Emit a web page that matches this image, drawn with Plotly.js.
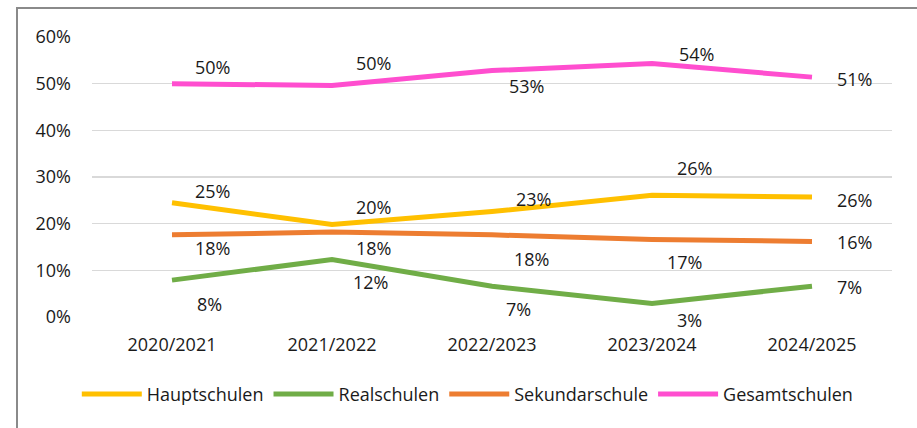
<!DOCTYPE html>
<html>
<head>
<meta charset="utf-8">
<script src="https://cdn.plot.ly/plotly-3.0.1.min.js"></script>
<style>
  html, body { margin: 0; padding: 0; background: #fff; }
  #wrap { position: relative; width: 917px; height: 428px; overflow: hidden; }
  #chart { width: 917px; height: 428px; }
  #frame { position: absolute; left: 16px; top: 7px; width: 1000px; height: 1000px;
           border-left: 2px solid #8a8a8a; border-top: 2px solid #8a8a8a; pointer-events: none; }
</style>
</head>
<body>
<div id="wrap">
  <div id="chart"></div>
  <div id="frame"></div>
</div>
<script>
// ---- data ----
const categories = ["2020/2021", "2021/2022", "2022/2023", "2023/2024", "2024/2025"];
const hauptschulen   = [24.5, 19.8, 22.6, 26.1, 25.7];
const realschulen    = [7.9, 12.3, 6.6, 2.9, 6.6];
const sekundarschule = [17.6, 18.2, 17.6, 16.6, 16.2];
const gesamtschulen  = [50.0, 49.6, 52.8, 54.3, 51.4];
const yTickVals   = [0, 10, 20, 30, 40, 50, 60];
const yTickLabels = ["0%", "10%", "20%", "30%", "40%", "50%", "60%"];

// ---- style ----
const seriesDefs = [
  { name: "Hauptschulen",   values: hauptschulen,   color: "#FFC000",
    shift: [[40,-12],[41,-18],[41,-12.5],[42,-27],[42,3]] },
  { name: "Realschulen",    values: realschulen,    color: "#70AD47",
    shift: [[37,24],[38,22],[26,23],[37,17],[37,1]] },
  { name: "Sekundarschule", values: sekundarschule, color: "#ED7D31",
    shift: [[40,13],[41,16],[39,24],[32,22.5],[42,1]] },
  { name: "Gesamtschulen",  values: gesamtschulen,  color: "#FF4ECF",
    shift: [[40,-17],[41,-23],[34,15],[44,-10],[42,1.5]] }
];
const FONT = "Open Sans, Liberation Sans, sans-serif";
const TXT = "#1a1a1a";

const traces = seriesDefs.map(s => ({
  type: "scatter", mode: "lines", name: s.name,
  x: categories, y: s.values,
  line: { color: s.color, width: 5 },
  hoverinfo: "skip"
}));

const annotations = [];
seriesDefs.forEach(s => {
  s.values.forEach((v, i) => {
    annotations.push({
      x: categories[i], y: v, xref: "x", yref: "y",
      text: Math.round(v) + "%", showarrow: false,
      xanchor: "center", yanchor: "middle",
      xshift: s.shift[i][0], yshift: -s.shift[i][1],
      font: { family: FONT, size: 18, color: TXT }
    });
  });
});

const layout = {
  width: 917, height: 428,
  margin: { l: 92, r: 25, t: 37, b: 111 },
  paper_bgcolor: "#ffffff", plot_bgcolor: "#ffffff",
  showlegend: true,
  font: { family: FONT, size: 18, color: TXT },
  xaxis: {
    type: "category", range: [-0.5, 4.5], fixedrange: true,
    showgrid: false, zeroline: false, showline: false, ticks: "",
    tickfont: { family: FONT, size: 18, color: TXT },
    ticklabelstandoff: 15
  },
  yaxis: {
    range: [0, 60], fixedrange: true,
    tickvals: yTickVals, ticktext: yTickLabels,
    showgrid: true, gridcolor: "#D9D9D9", gridwidth: 1.5,
    zeroline: false, showline: false, ticks: "",
    tickfont: { family: FONT, size: 18, color: TXT },
    ticklabelstandoff: 20
  },
  legend: {
    orientation: "h", x: -0.019, xanchor: "left", y: -0.276, yanchor: "middle",
    font: { family: FONT, size: 18, color: TXT },
    itemwidth: 60, tracegroupgap: 0, bgcolor: "rgba(0,0,0,0)"
  },
  annotations: annotations
};

Plotly.newPlot("chart", traces, layout, { displayModeBar: false, staticPlot: true });
</script>
</body>
</html>
